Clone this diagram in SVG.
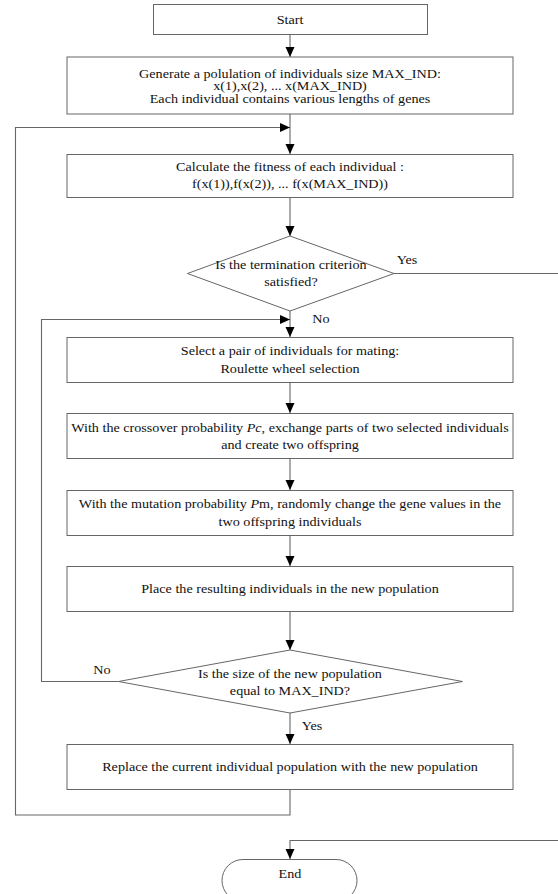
<svg xmlns="http://www.w3.org/2000/svg" width="558" height="894" viewBox="0 0 558 894">
<style>
.b{fill:#fff;stroke:#666;stroke-width:1}
.c{fill:none;stroke:#666;stroke-width:1.1}
text{font-family:"Liberation Serif","Times New Roman",serif;font-size:13px;fill:#111;text-anchor:middle}
.i{font-style:italic}
</style>
<defs>
<marker id="ah" viewBox="0 0 10 10" refX="10" refY="5" markerWidth="10" markerHeight="10" markerUnits="userSpaceOnUse" orient="auto">
<path d="M0,0.5 L10,5 L0,9.5 Z" fill="#000"/>
</marker>
</defs>
<rect width="558" height="894" fill="#fff"/>
<g id="connectors">
<path class="c" d="M290,35 V57" marker-end="url(#ah)"/>
<path class="c" d="M290,114 V154" marker-end="url(#ah)"/>
<path class="c" d="M290,789 V815 H15.5 V127.5 H290" marker-end="url(#ah)"/>
<path class="c" d="M290,198 V236" marker-end="url(#ah)"/>
<path class="c" d="M394,273.5 H562 V840.5 H290 V859" marker-end="url(#ah)"/>
<path class="c" d="M290,311 V337" marker-end="url(#ah)"/>
<path class="c" d="M118.5,681.5 H41.5 V319.5 H290" marker-end="url(#ah)"/>
<path class="c" d="M290,382 V413" marker-end="url(#ah)"/>
<path class="c" d="M290,458 V490" marker-end="url(#ah)"/>
<path class="c" d="M290,536 V566" marker-end="url(#ah)"/>
<path class="c" d="M290,612 V650" marker-end="url(#ah)"/>
<path class="c" d="M290,713 V744" marker-end="url(#ah)"/>
</g>
<g id="start">
<rect class="b" x="153.5" y="4.5" width="274" height="30"/>
<text x="290" y="24" transform="matrix(1.09 0 0 1 -26.1 0)">Start</text>
</g>
<g id="generate">
<rect class="b" x="67" y="57" width="446" height="57"/>
<text x="290" y="78" transform="matrix(1.09 0 0 1 -26.1 0)">Generate a polulation of individuals size MAX_IND:</text>
<text x="290" y="90.5" transform="matrix(1.09 0 0 1 -26.1 0)">x(1),x(2), ... x(MAX_IND)</text>
<text x="290" y="103" transform="matrix(1.09 0 0 1 -26.1 0)">Each individual contains various lengths of genes</text>
</g>
<g id="fitness">
<rect class="b" x="67" y="154.5" width="446" height="43"/>
<text x="290" y="171.5" transform="matrix(1.09 0 0 1 -26.1 0)">Calculate the fitness of each individual :</text>
<text x="290" y="188" transform="matrix(1.09 0 0 1 -26.1 0)">f(x(1)),f(x(2)), ... f(x(MAX_IND))</text>
</g>
<g id="termination">
<polygon class="b" points="290,236 394,273.5 290,311 187.5,273.5"/>
<text x="290.9" y="269.5" transform="matrix(1.09 0 0 1 -26.1 0)">Is the termination criterion</text>
<text x="290.9" y="286" transform="matrix(1.09 0 0 1 -26.1 0)">satisfied?</text>
<text x="397.3" y="264.5" transform="matrix(1.09 0 0 1 -26.1 0)">Yes</text>
<text x="318.4" y="323.5" transform="matrix(1.09 0 0 1 -26.1 0)">No</text>
</g>
<g id="select">
<rect class="b" x="67" y="337.5" width="446" height="45"/>
<text x="290" y="355" transform="matrix(1.09 0 0 1 -26.1 0)">Select a pair of individuals for mating:</text>
<text x="290" y="373" transform="matrix(1.09 0 0 1 -26.1 0)">Roulette wheel selection</text>
</g>
<g id="crossover">
<rect class="b" x="67" y="413.5" width="446" height="45"/>
<text x="290" y="432" transform="matrix(1.09 0 0 1 -26.1 0)">With the crossover probability <tspan class="i">Pc</tspan>, exchange parts of two selected individuals</text>
<text x="290" y="449.5" transform="matrix(1.09 0 0 1 -26.1 0)">and create two offspring</text>
</g>
<g id="mutation">
<rect class="b" x="67" y="490.5" width="446" height="45"/>
<text x="290" y="508" transform="matrix(1.09 0 0 1 -26.1 0)">With the mutation probability <tspan class="i">P</tspan>m, randomly change the gene values in the</text>
<text x="290" y="526" transform="matrix(1.09 0 0 1 -26.1 0)">two offspring individuals</text>
</g>
<g id="place">
<rect class="b" x="67" y="566.5" width="446" height="45"/>
<text x="290" y="593" transform="matrix(1.09 0 0 1 -26.1 0)">Place the resulting individuals in the new population</text>
</g>
<g id="sizecheck">
<polygon class="b" points="290,650 462.5,681.5 290,713 118.5,681.5"/>
<text x="290" y="678" transform="matrix(1.09 0 0 1 -26.1 0)">Is the size of the new population</text>
<text x="290" y="695.5" transform="matrix(1.09 0 0 1 -26.1 0)">equal to MAX_IND?</text>
<text x="117.5" y="674.5" transform="matrix(1.09 0 0 1 -26.1 0)">No</text>
<text x="310.2" y="730.5" transform="matrix(1.09 0 0 1 -26.1 0)">Yes</text>
</g>
<g id="replace">
<rect class="b" x="67" y="744.5" width="446" height="45"/>
<text x="290" y="771" transform="matrix(1.09 0 0 1 -26.1 0)">Replace the current individual population with the new population</text>
</g>
<g id="end">
<rect class="b" x="222" y="859.5" width="135" height="42" rx="21" ry="21"/>
<text x="290" y="878" transform="matrix(1.09 0 0 1 -26.1 0)">End</text>
</g>
</svg>
